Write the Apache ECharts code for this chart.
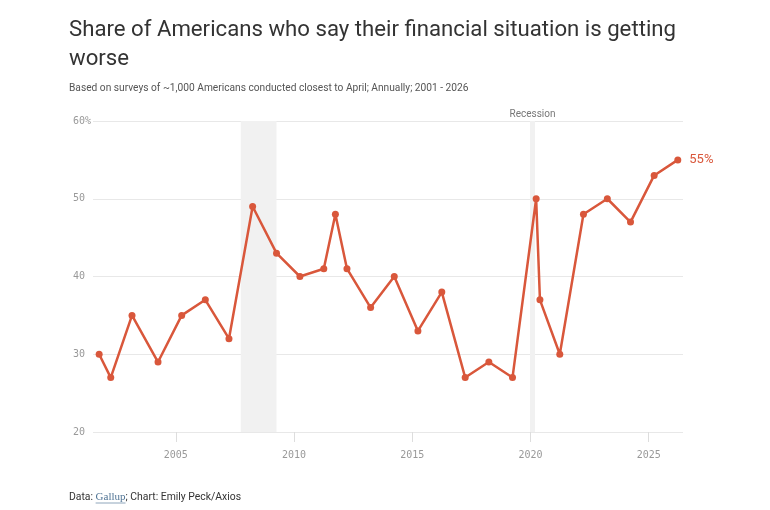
<!DOCTYPE html>
<html>
<head>
<meta charset="utf-8">
<script src="https://cdn.jsdelivr.net/npm/echarts@6/dist/echarts.min.js"></script>
<style>
html,body{margin:0;padding:0;background:#fff;}
#chart{width:770px;height:510px;}
</style>
</head>
<body>
<div id="chart"></div>
<script>
// Survey dates (decimal years) and share saying situation is getting worse (%)
const surveyDates = [2001.76, 2002.25, 2003.15, 2004.25, 2005.25, 2006.25, 2007.25, 2008.25, 2009.26, 2010.25, 2011.26, 2011.75, 2012.24, 2013.24, 2014.24, 2015.24, 2016.25, 2017.24, 2018.24, 2019.24, 2020.24, 2020.40, 2021.24, 2022.24, 2023.25, 2024.23, 2025.23, 2026.23];
const worseShare = [30, 27, 35, 29, 35, 37, 32, 49, 43, 40, 41, 48, 41, 36, 40, 33, 38, 27, 29, 27, 50, 37, 30, 48, 50, 47, 53, 55];
const xTickYears = [2005, 2010, 2015, 2020, 2025];
const yTicks = [20, 30, 40, 50, 60];
const recessionStarts = [2007.75, 2019.98];
const recessionEnds = [2009.26, 2020.19];
const recessionLabels = ['', 'Recession'];

const ORANGE = '#d9573b';
const MONO = '"DejaVu Sans Mono", monospace';
const SANS = 'Roboto, "Noto Sans", sans-serif';
const SERIF = '"Liberation Serif", serif';

const FOOT_LEFT = 69, FOOT_TOP = 492, FOOT_SIZE = 10.4, LINK_SIZE = 11;

// measure footer text to place the link underline
const mctx = document.createElement('canvas').getContext('2d');
mctx.font = FOOT_SIZE + 'px ' + SANS;
const preW = mctx.measureText('Data: ').width;
mctx.font = LINK_SIZE + 'px ' + SERIF;
const linkW = mctx.measureText('Gallup').width;

const chart = echarts.init(document.getElementById('chart'), null, {renderer: 'canvas'});

const seriesData = surveyDates.map((d, i) => {
  const item = {value: [d, worseShare[i]]};
  if (i === surveyDates.length - 1) {
    item.label = {
      show: true, position: 'right', distance: 8,
      formatter: worseShare[i] + '%', color: ORANGE, fontSize: 13, fontFamily: SANS
    };
  }
  return item;
});

const markAreaData = recessionStarts.map((s, i) => [
  {xAxis: s, yAxis: yTicks[yTicks.length - 1], name: recessionLabels[i]},
  {xAxis: recessionEnds[i], yAxis: yTicks[0]}
]);

chart.setOption({
  animation: false,
  backgroundColor: '#ffffff',
  title: [
    {
      text: 'Share of Americans who say their financial situation is getting\nworse',
      left: 69, top: 16, padding: 0,
      textStyle: {fontSize: 22.2, lineHeight: 29, fontWeight: 'normal', color: '#333333', fontFamily: SANS}
    },
    {
      text: 'Based on surveys of ~1,000 Americans conducted closest to April; Annually; 2001 - 2026',
      left: 69, top: 83, padding: 0,
      textStyle: {fontSize: 10.2, fontWeight: 'normal', color: '#555555', fontFamily: SANS}
    },
    {
      text: 'Data: {link|Gallup}; Chart: Emily Peck/Axios',
      left: FOOT_LEFT, top: FOOT_TOP, padding: 0,
      textStyle: {
        fontSize: FOOT_SIZE, fontWeight: 'normal', color: '#333333', fontFamily: SANS,
        rich: {link: {fontSize: LINK_SIZE, color: '#4f7394', fontFamily: SERIF}}
      }
    }
  ],
  graphic: [{
    type: 'line',
    silent: true,
    shape: {x1: FOOT_LEFT + preW, y1: FOOT_TOP + 11, x2: FOOT_LEFT + preW + linkW, y2: FOOT_TOP + 11},
    style: {stroke: '#8fa6bb', lineWidth: 1}
  }],
  grid: {left: 93, right: 87, top: 121, bottom: 78},
  xAxis: {
    type: 'value',
    min: 2001.5, max: 2026.45,
    axisLine: {show: false},
    splitLine: {show: false},
    axisTick: {show: true, length: 10, lineStyle: {color: '#dddddd'}, customValues: xTickYears},
    axisLabel: {customValues: xTickYears, margin: 18, color: '#999999', fontSize: 10, fontFamily: MONO, formatter: v => String(v)}
  },
  yAxis: {
    type: 'value',
    min: yTicks[0], max: yTicks[yTicks.length - 1], interval: 10,
    axisLine: {show: false},
    axisTick: {show: false},
    splitLine: {lineStyle: {color: '#e8e8e8', width: 1}},
    axisLabel: {
      align: 'left', margin: 20, color: '#999999', fontSize: 10, fontFamily: MONO,
      formatter: v => v === yTicks[yTicks.length - 1] ? v + '%' : String(v)
    }
  },
  series: [{
    type: 'line',
    data: seriesData,
    symbol: 'circle',
    symbolSize: 7,
    showSymbol: true,
    lineStyle: {color: ORANGE, width: 2.5},
    itemStyle: {color: ORANGE},
    emphasis: {disabled: true},
    markArea: {
      silent: true,
      itemStyle: {color: '#f1f1f1'},
      label: {show: true, position: 'top', distance: 2, color: '#777777', fontSize: 10, fontFamily: SANS},
      data: markAreaData
    },
    z: 3
  }]
});
</script>
</body>
</html>
